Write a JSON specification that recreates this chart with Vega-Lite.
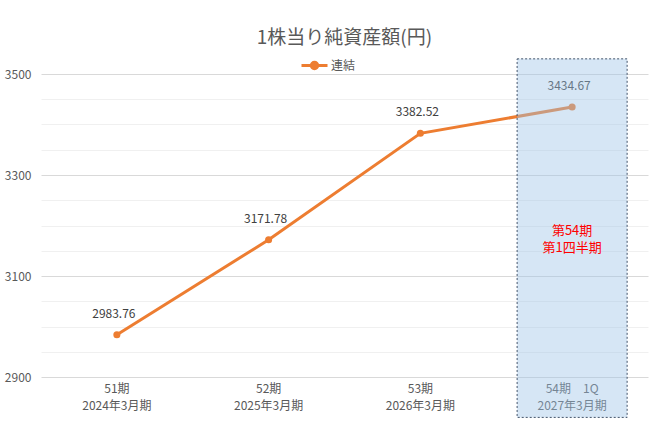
{
  "$schema": "https://vega.github.io/schema/vega-lite/v6.json",
  "width": 607,
  "height": 303,
  "autosize": "none",
  "padding": {"left": 41, "top": 74, "right": 10, "bottom": 45},
  "background": "white",
  "config": {
    "view": {"stroke": null},
    "font": "Noto Sans CJK JP",
    "text": {"font": "Noto Sans CJK JP"}
  },
  "title": {
    "text": "1株当り純資産額(円)",
    "fontSize": 19,
    "fontWeight": "normal",
    "color": "#595959",
    "font": "Noto Sans CJK JP",
    "offset": 3
  },
  "data": {
    "values": [
      {"period": "51期|2024年3月期", "value": 2983.76, "series": "連結"},
      {"period": "52期|2025年3月期", "value": 3171.78, "series": "連結"},
      {"period": "53期|2026年3月期", "value": 3382.52, "series": "連結"},
      {"period": "54期　1Q|2027年3月期", "value": 3434.67, "series": "連結"}
    ]
  },
  "encoding": {
    "x": {
      "field": "period",
      "type": "nominal",
      "sort": null,
      "scale": {"type": "band", "paddingInner": 0, "paddingOuter": 0},
      "axis": {
        "title": null,
        "labelAngle": 0,
        "labelExpr": "split(datum.value, '|')",
        "labelColor": "#595959",
        "labelFontSize": 12,
        "labelLineHeight": 17,
        "labelPadding": 6,
        "ticks": false,
        "domain": false,
        "grid": false
      }
    },
    "y": {
      "field": "value",
      "type": "quantitative",
      "scale": {"domain": [2900, 3500], "nice": false, "zero": false},
      "axis": {
        "title": null,
        "values": [2900, 2950, 3000, 3050, 3100, 3150, 3200, 3250, 3300, 3350, 3400, 3450, 3500],
        "labelExpr": "(datum.value - 2900) % 200 == 0 ? datum.value : ''",
        "labelColor": "#595959",
        "labelFontSize": 12,
        "labelPadding": 10,
        "ticks": false,
        "domain": false,
        "gridColor": {"condition": {"test": "(datum.value - 2900) % 200 == 0", "value": "#d9d9d9"}, "value": "#f0f0f0"},
        "gridWidth": 1
      }
    }
  },
  "layer": [
    {
      "mark": {"type": "line", "strokeWidth": 3},
      "encoding": {
        "color": {
          "field": "series",
          "type": "nominal",
          "scale": {"range": ["#ed7d31"]},
          "legend": {
            "title": null,
            "orient": "none",
            "legendX": 259,
            "legendY": -23,
            "direction": "horizontal",
            "symbolType": "M-1,0H1M-0.25,0A0.25,0.25 0 1 1 0.25,0A0.25,0.25 0 1 1 -0.25,0Z",
            "symbolSize": 676,
            "symbolStrokeWidth": 3,
            "symbolFillColor": "#ed7d31",
            "symbolStrokeColor": "#ed7d31",
            "labelColor": "#595959",
            "labelFontSize": 12,
            "labelOffset": 2,
            "labelFont": "Noto Sans CJK JP"
          }
        }
      }
    },
    {
      "mark": {"type": "point", "filled": true, "size": 50, "opacity": 1},
      "encoding": {"color": {"field": "series", "type": "nominal", "legend": null}}
    },
    {
      "mark": {"type": "text", "dy": -21, "dx": -3, "fontSize": 12, "color": "#404040", "font": "Noto Sans CJK JP"},
      "encoding": {"text": {"field": "value", "type": "quantitative", "format": ".2f"}}
    },
    {
      "transform": [{"filter": "datum.period == '54期　1Q|2027年3月期'"}],
      "mark": {
        "type": "bar",
        "width": {"band": 0.725},
        "fill": "#9dc3e6",
        "fillOpacity": 0.42,
        "stroke": "#44546a",
        "strokeWidth": 1,
        "strokeDash": [2, 2]
      },
      "encoding": {
        "y": {"datum": 3530},
        "y2": {"datum": 2820}
      }
    },
    {
      "transform": [{"filter": "datum.period == '54期　1Q|2027年3月期'"}],
      "mark": {
        "type": "text",
        "text": "第54期",
        "color": "#ff0000",
        "fontSize": 13,
        "baseline": "middle",
        "dy": -9,
        "font": "Noto Sans CJK JP"
      },
      "encoding": {
        "y": {"datum": 3172}
      }
    },
    {
      "transform": [{"filter": "datum.period == '54期　1Q|2027年3月期'"}],
      "mark": {
        "type": "text",
        "text": "第1四半期",
        "color": "#ff0000",
        "fontSize": 13,
        "baseline": "middle",
        "dy": 8,
        "font": "Noto Sans CJK JP"
      },
      "encoding": {
        "y": {"datum": 3172}
      }
    }
  ]
}
